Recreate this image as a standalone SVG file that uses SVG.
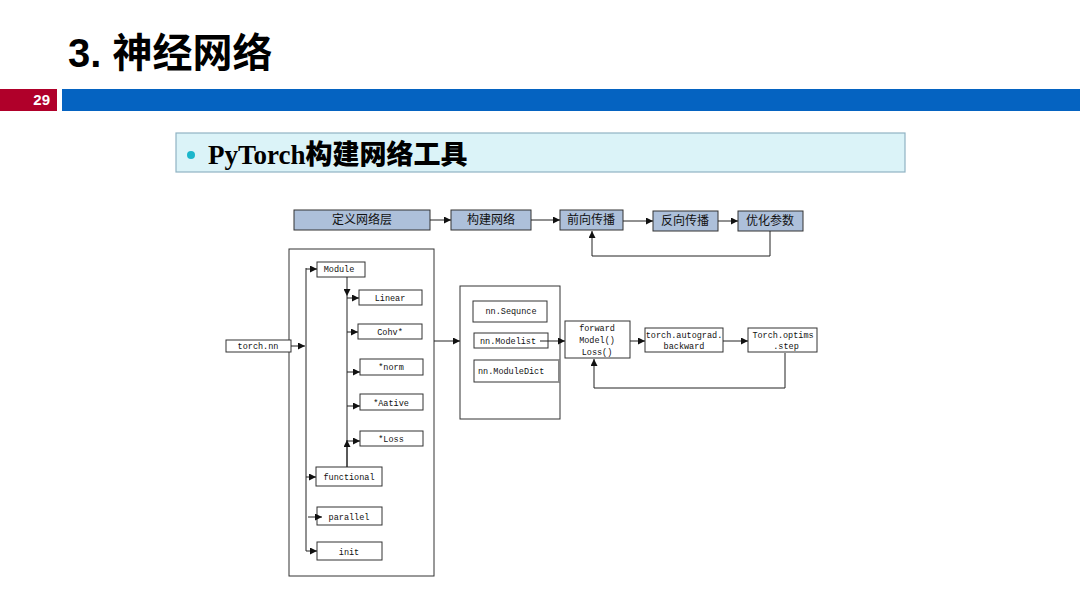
<svg xmlns="http://www.w3.org/2000/svg" width="1080" height="608" viewBox="0 0 1080 608">
<defs>
<style>
.title{font-family:"Liberation Sans","Noto Sans CJK SC",sans-serif;font-weight:bold;font-size:40px;fill:#000}
.pg{font-family:"Liberation Sans",sans-serif;font-weight:bold;font-size:15px;fill:#fff}
.top{fill:#adc0da;stroke:#333;stroke-width:1}
.toptxt{font-family:"Noto Sans CJK SC",sans-serif;font-size:12px;fill:#111;text-anchor:middle}
.box{fill:#fff;stroke:#333;stroke-width:1}
.t{font-family:"Liberation Mono","DejaVu Sans Mono",monospace;font-size:8.5px;fill:#111;text-anchor:middle}
.ts{font-family:"Liberation Mono","DejaVu Sans Mono",monospace;font-size:8.5px;fill:#111;text-anchor:start}
.ln{fill:none;stroke:#222;stroke-width:1}
</style>
<marker id="ah" viewBox="0 0 10 10" refX="10" refY="5" markerWidth="8" markerHeight="7" markerUnits="userSpaceOnUse" orient="auto">
<path d="M0,0 L10,5 L0,10 z" fill="#111"/>
</marker>
</defs>
<rect width="1080" height="608" fill="#fff"/>

<g id="header">
<text class="title" x="68" y="67">3. 神经网络</text>
<rect x="0" y="89" width="57" height="22" fill="#b0002a"/>
<text class="pg" x="50" y="105" text-anchor="end">29</text>
<rect x="62" y="89" width="1018" height="22" fill="#0563c1"/>
</g>

<g id="subtitle">
<rect x="176" y="133" width="729" height="39" fill="#dbf3f8" stroke="#90b3c3" stroke-width="1.2"/>
<circle cx="191" cy="155" r="4" fill="#1cb6cb"/>
<text x="208" y="164" fill="#000"><tspan font-family="Liberation Serif,serif" font-weight="bold" font-size="27">PyTorch</tspan><tspan font-family="Noto Sans CJK SC,sans-serif" font-weight="900" font-size="27">构建网络工具</tspan></text>
</g>

<g id="n-nnbox"><rect class="box" x="289" y="249" width="145" height="327"/></g>
<g id="n-container"><rect class="box" x="460" y="286" width="100" height="133"/></g>

<g id="n-define"><rect class="top" x="294" y="210" width="136" height="20"/><text class="toptxt" x="362" y="224">定义网络层</text></g>
<g id="n-build"><rect class="top" x="451" y="210" width="80" height="20"/><text class="toptxt" x="491" y="224">构建网络</text></g>
<g id="n-forward"><rect class="top" x="560" y="210" width="63" height="20"/><text class="toptxt" x="591" y="224">前向传播</text></g>
<g id="n-backward"><rect class="top" x="653" y="211" width="65" height="20"/><text class="toptxt" x="685" y="225">反向传播</text></g>
<g id="n-optim"><rect class="top" x="738" y="211" width="65" height="20"/><text class="toptxt" x="770" y="225">优化参数</text></g>

<g id="n-torchnn"><rect class="box" x="226" y="340" width="65" height="12"/><text class="t" x="258" y="349">torch.nn</text></g>
<g id="n-module"><rect class="box" x="317" y="262" width="48" height="15"/><text class="t" x="339" y="272">Module</text></g>
<g id="n-linear"><rect class="box" x="359" y="290" width="63" height="15"/><text class="t" x="390" y="301">Linear</text></g>
<g id="n-conv"><rect class="box" x="358" y="324" width="64" height="15"/><text class="t" x="390" y="335">Cohv*</text></g>
<g id="n-norm"><rect class="box" x="360" y="359" width="63" height="16"/><text class="t" x="391" y="370">*norm</text></g>
<g id="n-active"><rect class="box" x="360" y="394" width="63" height="16"/><text class="t" x="391" y="406">*Aative</text></g>
<g id="n-loss"><rect class="box" x="360" y="431" width="63" height="15"/><text class="t" x="391" y="442">*Loss</text></g>
<g id="n-functional"><rect class="box" x="316" y="467" width="66" height="19"/><text class="t" x="349" y="480">functional</text></g>
<g id="n-parallel"><rect class="box" x="317" y="507" width="65" height="18"/><text class="t" x="349" y="520">parallel</text></g>
<g id="n-init"><rect class="box" x="317" y="542" width="65" height="18"/><text class="t" x="349" y="555">init</text></g>

<g id="n-seq"><rect class="box" x="473" y="301" width="74" height="21"/><text class="t" x="511" y="314">nn.Sequnce</text></g>
<g id="n-modlist"><rect class="box" x="474" y="333" width="74" height="15"/><text class="t" x="508" y="344">nn.Modelist</text></g>
<g id="n-moddict"><rect class="box" x="474" y="360" width="85" height="22"/><line x1="559" y1="360" x2="559" y2="382" stroke="#888" stroke-width="2"/><text class="ts" x="478" y="374">nn.ModuleDict</text></g>
<g id="n-fwd"><rect class="box" x="565" y="321" width="65" height="37"/><text class="t" x="597" y="331">forward</text><text class="t" x="597" y="343">Model()</text><text class="t" x="597" y="355">Loss()</text></g>
<g id="n-autograd"><rect class="box" x="645" y="328" width="78" height="24"/><text class="t" x="684" y="338">torch.autograd.</text><text class="t" x="684" y="349">backward</text></g>
<g id="n-step"><rect class="box" x="748" y="328" width="69" height="24"/><text class="t" x="783" y="338">Torch.optims</text><text class="t" x="786" y="349">.step</text></g>

<g id="connectors">
<line class="ln" x1="430" y1="220" x2="451" y2="220" marker-end="url(#ah)"/>
<line class="ln" x1="531" y1="220" x2="560" y2="220" marker-end="url(#ah)"/>
<line class="ln" x1="623" y1="221" x2="653" y2="221" marker-end="url(#ah)"/>
<line class="ln" x1="718" y1="221" x2="738" y2="221" marker-end="url(#ah)"/>
<polyline class="ln" points="770,231 770,256 592,256 592,231" marker-end="url(#ah)"/>

<line class="ln" x1="291" y1="346" x2="305" y2="346" marker-end="url(#ah)"/>
<line class="ln" x1="306" y1="268" x2="306" y2="551"/>
<line class="ln" x1="306" y1="269" x2="317" y2="269" marker-end="url(#ah)"/>
<line class="ln" x1="306" y1="477" x2="316" y2="477" marker-end="url(#ah)"/>
<line class="ln" x1="308" y1="517" x2="322" y2="517" marker-end="url(#ah)"/>
<line class="ln" x1="306" y1="551" x2="317" y2="551" marker-end="url(#ah)"/>

<line class="ln" x1="347" y1="277" x2="347" y2="296" marker-end="url(#ah)"/>
<line class="ln" x1="347" y1="296" x2="347" y2="467"/>
<line class="ln" x1="347" y1="467" x2="347" y2="440" marker-end="url(#ah)"/>
<line class="ln" x1="347" y1="298" x2="359" y2="298" marker-end="url(#ah)"/>
<line class="ln" x1="347" y1="332" x2="358" y2="332" marker-end="url(#ah)"/>
<line class="ln" x1="347" y1="372" x2="360" y2="372" marker-end="url(#ah)"/>
<line class="ln" x1="347" y1="406" x2="360" y2="406" marker-end="url(#ah)"/>
<line class="ln" x1="347" y1="441" x2="360" y2="441" marker-end="url(#ah)"/>

<line class="ln" x1="434" y1="341" x2="460" y2="341" marker-end="url(#ah)"/>
<line class="ln" x1="540" y1="341" x2="565" y2="341" marker-end="url(#ah)"/>
<line class="ln" x1="630" y1="341" x2="645" y2="341" marker-end="url(#ah)"/>
<line class="ln" x1="723" y1="341" x2="748" y2="341" marker-end="url(#ah)"/>
<polyline class="ln" points="785,353 785,388 594,388 594,359" marker-end="url(#ah)"/>
</g>
</svg>
